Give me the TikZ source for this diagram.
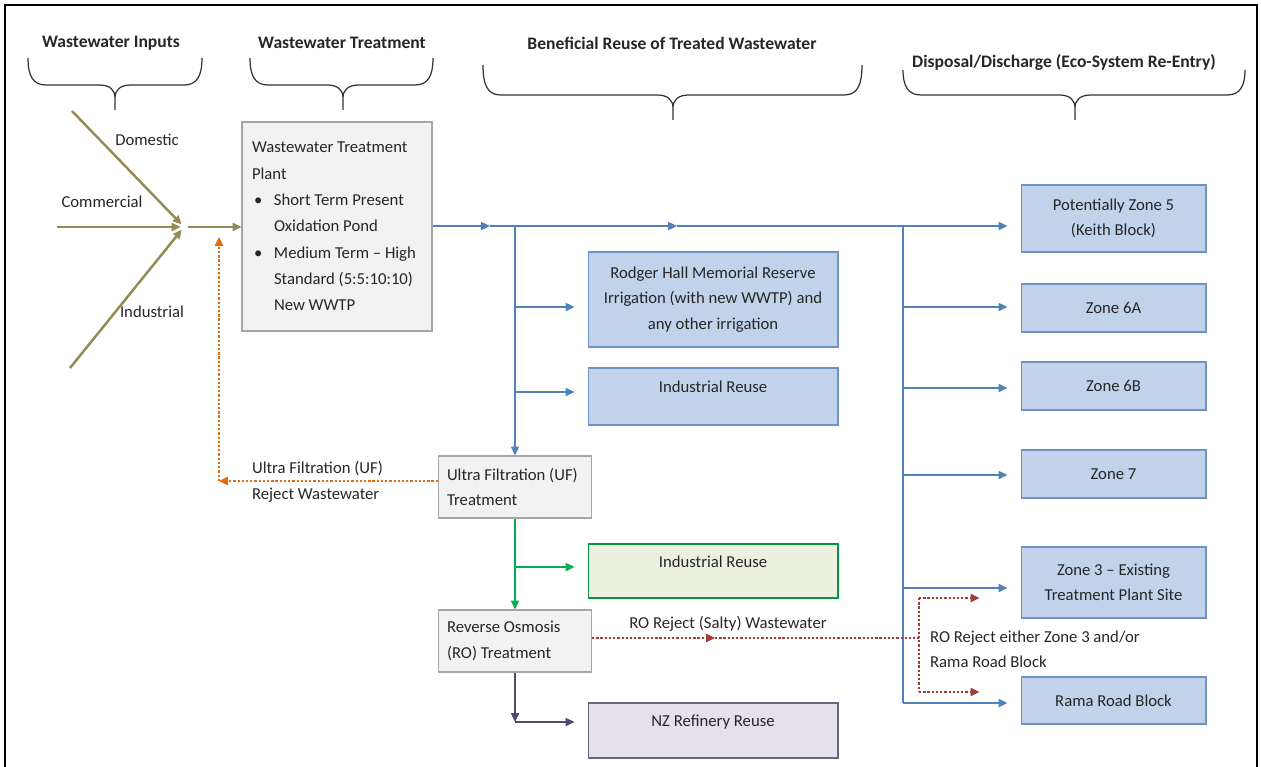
\documentclass[tikz,border=0pt]{standalone}
\usepackage{fontspec}
\setmainfont{Carlito}
\usetikzlibrary{arrows.meta}
\definecolor{olivebrown}{HTML}{948A54}
\definecolor{flowblue}{HTML}{4F81BD}
\definecolor{boxblue}{HTML}{C0D3EA}
\definecolor{edgeblue}{HTML}{6F92C2}
\definecolor{flowgreen}{HTML}{00B050}
\definecolor{boxgreen}{HTML}{EBF1DE}
\definecolor{slate}{HTML}{4F4A6B}
\definecolor{boxlilac}{HTML}{E5E0EC}
\definecolor{rejectorange}{HTML}{E46C0A}
\definecolor{rejectred}{HTML}{A23B3A}
\definecolor{boxgrey}{HTML}{F2F2F2}
\definecolor{edgegrey}{HTML}{A6A6A6}
% bullet and hanging indent for the plant box
\newcommand\bul{\makebox[0.44cm][l]{\hspace{0.04cm}\textbullet}}
\newcommand\ind{\hspace*{0.44cm}}
% curly brace under a heading: left, right, middle x; top, level, tip y
\newcommand\capbrace[6]{%
\draw[brace line] (#1,#4) .. controls (#1,#5-9) and (#1+5,#5) .. (#1+18,#5)
  -- (#3-16,#5) .. controls (#3-5,#5) and (#3,#5+5) .. (#3,#5+13) -- (#3,#6)
  -- (#3,#5+13) .. controls (#3,#5+5) and (#3+5,#5) .. (#3+16,#5)
  -- (#2-18,#5) .. controls (#2-5,#5) and (#2,#5-9) .. (#2,#4);}
\begin{document}
\begin{tikzpicture}[x=0.02cm, y=-0.02cm, font=\fontsize{9.5}{14.5}\selectfont,
  heading/.style={font=\fontsize{10}{12}\selectfont\bfseries, text=black!85},
  plain/.style={inner sep=1pt, text=black!85},
  greybox/.style={draw=edgegrey, fill=boxgrey, line width=0.6pt, align=flush left, inner xsep=0.2cm, inner ysep=0pt, text=black!85},
  bluebox/.style={draw=edgeblue, fill=boxblue, line width=0.6pt, align=center, text=black!85},
  greenbox/.style={draw=flowgreen!85!black, fill=boxgreen, line width=0.6pt, align=center, text=black!85},
  lilacbox/.style={draw=slate!85, fill=boxlilac, line width=0.6pt, align=center, text=black!85},
  raised/.style={text height=7pt, text depth=11pt},
  zone/.style={bluebox, minimum width=3.7cm},
  arrowtip/.style={-{Triangle[length=5pt,width=4.5pt]}},
  olive flow/.style={draw=olivebrown, line width=1.4pt, arrowtip},
  blue line/.style={draw=flowblue, line width=1.1pt},
  blue flow/.style={blue line, arrowtip},
  green flow/.style={draw=flowgreen, line width=1.1pt, arrowtip},
  slate flow/.style={draw=slate, line width=1.1pt, arrowtip},
  dotline/.style={line width=1.3pt, dash pattern=on 1.3pt off 1.1pt},
  orange flow/.style={draw=rejectorange, dotline, arrowtip},
  red line/.style={draw=rejectred, dotline},
  red flow/.style={red line, arrowtip},
  gap/.style={shorten >=0.26cm},
  brace line/.style={draw=black!80, line width=0.7pt}]
\useasboundingbox (0,0) rectangle (1261,767);
\draw[line width=0.9pt] (5,790) -- (5,5) -- (1257,5) -- (1257,790);
%%%% headings
\node[heading] (hInputs) at (111,43) {Wastewater Inputs};
\node[heading] (hTreat) at (342,43) {Wastewater Treatment};
\node[heading] (hReuse) at (672,43) {Beneficial Reuse of Treated Wastewater};
\node[heading] (hDisposal) at (1064,62) {Disposal/Discharge (Eco-System Re-Entry)};
\capbrace{28}{202}{115}{58}{85}{110}
\capbrace{250}{433}{343}{58}{85}{110}
\capbrace{483}{862}{673}{65}{95}{120}
\capbrace{903}{1245}{1075}{70}{95}{120}
%%%% treatment
\node[greybox, font=\fontsize{9.5}{15}\selectfont, text width=3.4cm, minimum height=4.18cm] (wwtp) at (337,226.5)
  {Wastewater Treatment\\Plant\\\bul Short Term Present\\\ind Oxidation Pond\\\bul Medium Term -- High\\\ind Standard (5:5:10:10)\\\ind New WWTP};
\node[greybox, inner xsep=0.17cm, text width=2.72cm, minimum height=1.24cm] (uf) at (515,487) {\mbox{Ultra Filtration (UF)}\\Treatment};
\node[greybox, inner xsep=0.17cm, text width=2.72cm, minimum height=1.24cm] (ro) at (515,641) {Reverse Osmosis\\(RO) Treatment};
%%%% reuse
\node[bluebox, minimum width=5cm, minimum height=1.9cm] (rodger) at (713,299.5)
  {Rodger Hall Memorial Reserve\\Irrigation (with new WWTP) and\\any other irrigation};
\node[bluebox, raised, minimum width=5cm, minimum height=1.14cm] (bluereuse) at (713,396.5) {Industrial Reuse};
\node[greenbox, raised, minimum width=5cm, minimum height=1.08cm] (greenreuse) at (713,571) {Industrial Reuse};
\node[lilacbox, raised, minimum width=5cm, minimum height=1.1cm] (refinery) at (713,730.5) {NZ Refinery Reuse};
%%%% disposal
\node[zone, minimum height=1.34cm] (zone5) at (1113.5,218.5) {Potentially Zone 5\\(Keith Block)};
\node[zone, minimum height=0.96cm] (zone6a) at (1113.5,308) {Zone 6A};
\node[zone, minimum height=0.96cm] (zone6b) at (1113.5,386) {Zone 6B};
\node[zone, minimum height=0.96cm] (zone7) at (1113.5,474) {Zone 7};
\node[zone, minimum height=1.42cm] (zone3) at (1113.5,582.5) {Zone 3 -- Existing\\Treatment Plant Site};
\node[zone, minimum height=0.94cm] (rama) at (1113.5,700.5) {Rama Road Block};
%%%% labels
\node[plain] (lDomestic) at (147,140) {Domestic};
\node[plain] (lCommercial) at (102,202) {Commercial};
\node[plain] (lIndustrial) at (152,312) {Industrial};
\node[plain, align=left, anchor=west] (lUFreject) at (250,482) {Ultra Filtration (UF)\\Reject Wastewater};
\node[plain] (lROreject) at (728,624) {RO Reject (Salty) Wastewater};
\node[plain, align=left, anchor=west] (lROeither) at (928,649.5) {RO Reject either Zone 3 and/or\\Rama Road Block};
%%%% inputs
\coordinate (cDom) at (72,111);
\coordinate (cCom) at (57,227);
\coordinate (cInd) at (70,368);
\coordinate (cMeet) at (184,227);
\foreach \c in {cDom,cCom,cInd}
\draw[olive flow, shorten >=2pt] (\c) -- (cMeet);
\draw[olive flow, shorten <=2pt] (cMeet) -- (wwtp.west |- cMeet);
%%%% treated water
\coordinate (m1) at (490,226);
\coordinate (j1) at (515,226);
\coordinate (m2) at (677,226);
\coordinate (j2) at (903,226);
\draw[blue flow] (wwtp.east |- m1) -- (m1);
\draw[blue flow] (m1) -- (m2);
\draw[blue flow, gap] (m2) -- (zone5.west |- m2);
\draw[blue flow] (j1) -- (uf.north);
\coordinate (b1) at (515,307);
\coordinate (b2) at (515,392);
\draw[blue flow, gap] (b1) -- (rodger.west |- b1);
\draw[blue flow, gap] (b2) -- (bluereuse.west |- b2);
\foreach \n/\y in {zone6a/307,zone6b/388,zone7/475,zone3/588,rama/703}{
\coordinate (k\n) at (903,\y);
\draw[blue flow, gap] (k\n) -- (\n.west |- k\n);
}
\draw[blue line] (j2) -- (krama);
%%%% UF and RO
\coordinate (g1) at (515,567);
\draw[green flow] (uf.south) -- (ro.north);
\draw[green flow, gap] (g1) -- (greenreuse.west |- g1);
\coordinate (s1) at (515,722);
\draw[slate flow] (ro.south) -- (s1);
\draw[slate flow, gap] (s1) -- (refinery.west |- s1);
%%%% rejects
\coordinate (o1) at (219,481);
\coordinate (o2) at (219,237);
\draw[orange flow] (uf.west |- o1) -- (o1);
\draw[orange flow] (o1) -- (o2);
\coordinate (r1) at (715,638);
\coordinate (r2) at (919,638);
\coordinate (r3) at (919,598);
\coordinate (r4) at (919,692);
\draw[red flow] (ro.east |- r1) -- (r1);
\draw[red line] (r1) -- (r2);
\draw[red line] (r3) -- (r4);
\draw[red flow, shorten >=0.82cm] (r3) -- (zone3.west |- r3);
\draw[red flow, shorten >=0.82cm] (r4) -- (rama.west |- r4);
\end{tikzpicture}
\end{document}
